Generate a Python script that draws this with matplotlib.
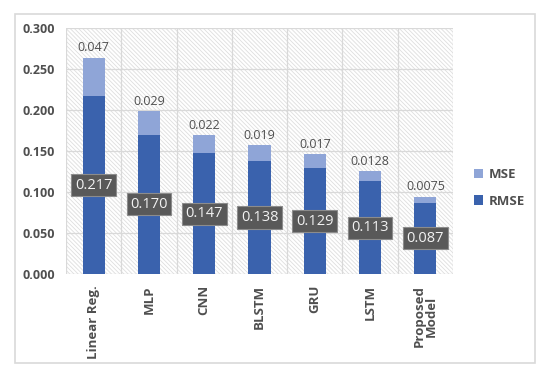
import matplotlib.pyplot as plt
import matplotlib.patches as patches
import numpy as np

plt.rcParams['font.family'] = ['Open Sans', 'DejaVu Sans']
plt.rcParams['hatch.linewidth'] = 0.6

# data
models = ['Linear Reg.', 'MLP', 'CNN', 'BLSTM', 'GRU', 'LSTM', 'Proposed\nModel']
rmse = [0.217, 0.170, 0.147, 0.138, 0.129, 0.113, 0.087]
mse = [0.047, 0.029, 0.022, 0.019, 0.017, 0.0128, 0.0075]
mse_labels = ['0.047', '0.029', '0.022', '0.019', '0.017', '0.0128', '0.0075']
yticks = [0.0, 0.05, 0.10, 0.15, 0.20, 0.25, 0.30]

c_rmse = '#3a62ad'
c_mse = '#8fa5d7'
txt = '#4f4f4f'

fig = plt.figure(figsize=(5.5, 3.74), dpi=100)
# outer chart border
fig.patches.append(patches.Rectangle((15/550, 1-363/374), 520/550, 349/374,
                                     transform=fig.transFigure, fill=False,
                                     edgecolor='#d9d9d9', linewidth=1.2))

ax = fig.add_axes([66/550, 1-274/374, 387/550, 246/374])
x = np.arange(len(models))
ax.set_xlim(-0.5, len(models) - 0.5)
ax.set_ylim(0, 0.3)

# hatched background of plot area
ax.add_patch(patches.Rectangle((0, 0), 1, 1, transform=ax.transAxes,
                               facecolor='white', edgecolor='#dedede',
                               hatch='\\\\\\\\\\\\\\\\', linewidth=0, zorder=0))
for yv in yticks:
    ax.axhline(yv, color='#d9d9d9', linewidth=0.9, zorder=1)
for xv in np.arange(-0.5, len(models), 1):
    ax.axvline(xv, color='#d9d9d9', linewidth=0.9, zorder=1)

ax.bar(x, rmse, width=0.4, color=c_rmse, label='RMSE', zorder=3)
ax.bar(x, mse, width=0.4, bottom=rmse, color=c_mse, label='MSE', zorder=3)

for i in range(len(models)):
    ax.text(x[i], rmse[i] / 2, '%.3f' % rmse[i], ha='center', va='center',
            color='#f2f2f2', fontsize=10.5, zorder=5,
            bbox=dict(boxstyle='square,pad=0.25', facecolor='#595959',
                      edgecolor='#8c8c8c', linewidth=0.8))
    ax.text(x[i], rmse[i] + mse[i] + 0.004, mse_labels[i], ha='center', va='bottom',
            color=txt, fontsize=9, zorder=5)

for s in ax.spines.values():
    s.set_visible(False)
ax.set_yticks(yticks)
ax.set_yticklabels(['%.3f' % v for v in yticks], color=txt, fontsize=9, fontweight='bold')
ax.set_xticks(x)
ax.set_xticklabels(models, rotation=90, color=txt, fontsize=9.5, fontweight='bold',
                   va='top', linespacing=0.95)
ax.tick_params(length=0, pad=8)

h, l = ax.get_legend_handles_labels()
leg = fig.legend(h[::-1], l[::-1], loc='center left', bbox_to_anchor=(462/550, 1-188/374),
                 frameon=False, handlelength=0.7, handleheight=0.7, handletextpad=0.4,
                 labelspacing=1.0, prop={'weight': 'bold', 'size': 9.5})
for t in leg.get_texts():
    t.set_color(txt)

fig.savefig('out.png', dpi=100)
